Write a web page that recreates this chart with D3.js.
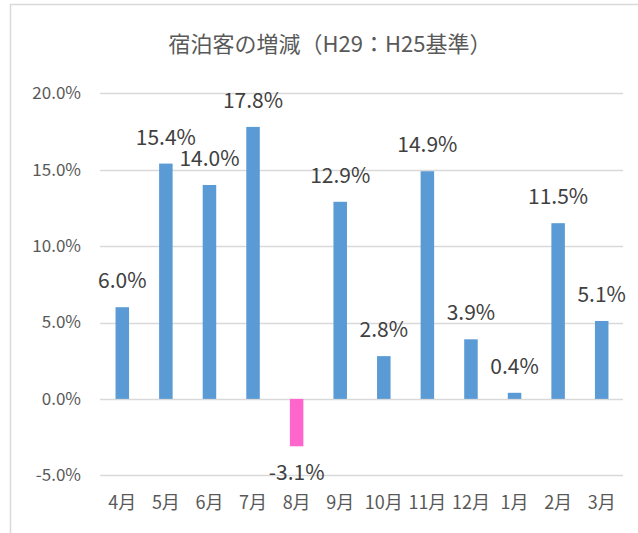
<!DOCTYPE html>
<html><head><meta charset="utf-8">
<script src="https://cdn.jsdelivr.net/npm/d3@7"></script>
<style>body{margin:0;background:#fff;} svg{display:block;}</style>
</head><body>
<svg id="c" width="638" height="533"></svg>
<script>
const categories = ["4月","5月","6月","7月","8月","9月","10月","11月","12月","1月","2月","3月"];
const values = [6.0,15.4,14.0,17.8,-3.1,12.9,2.8,14.9,3.9,0.4,11.5,5.1];
const yTicks = [-5,0,5,10,15,20];
const title = "宿泊客の増減（H29：H25基準）";

const FONT = "'Noto Sans CJK JP','Noto Sans',sans-serif";
const pct = d => d3.format(".1f")(d).replace("\u2212","-") + "%";
const svg = d3.select("#c");
svg.append("rect").attr("x",10.5).attr("y",4.5).attr("width",640).attr("height",540)
  .attr("fill","#fff").attr("stroke","#d9d9d9").attr("stroke-width",1.5);

const x = d3.scaleBand().domain(categories).range([100.5,623.5]).padding(0);
const y = d3.scaleLinear().domain([-5,20]).range([475.3,93.3]);
const bw = x.bandwidth()*0.31;

const g = svg.append("g");
g.selectAll("line.grid").data(yTicks).enter().append("line")
  .attr("x1",100).attr("x2",623).attr("y1",d=>Math.round(y(d))+0.5).attr("y2",d=>Math.round(y(d))+0.5)
  .attr("stroke","#d9d9d9").attr("stroke-width",1.3);

const yAxis = d3.axisLeft(y).tickValues(yTicks).tickSize(0).tickPadding(0).tickFormat(pct);
const ya = svg.append("g").attr("transform","translate(81,0)").call(yAxis);
ya.select(".domain").remove();
ya.selectAll("text").attr("font-family",FONT).attr("font-size",17).attr("fill","#595959");

g.selectAll("rect.bar").data(values).enter().append("rect")
  .attr("x",(d,i)=>x(categories[i])+x.bandwidth()/2-bw/2)
  .attr("width",bw)
  .attr("y",d=>y(Math.max(0,d)))
  .attr("height",d=>Math.abs(y(d)-y(0)))
  .attr("fill",d=>d<0?"#ff66cc":"#5b9bd5");

g.selectAll("text.lbl").data(values).enter().append("text")
  .attr("x",(d,i)=>x(categories[i])+x.bandwidth()/2)
  .attr("y",d=>d<0?y(d)+34:y(d)-19)
  .attr("text-anchor","middle")
  .attr("font-family",FONT).attr("font-size",21).attr("fill","#404040")
  .text(pct);

const xAxis = d3.axisBottom(x).tickSize(0).tickPadding(0);
const xa = svg.append("g").attr("transform","translate(0,496)").call(xAxis);
xa.select(".domain").remove();
xa.selectAll("text").attr("font-family",FONT).attr("font-size",18).attr("fill","#595959");

svg.append("text").attr("x",330).attr("y",52).attr("text-anchor","middle")
  .attr("font-family",FONT).attr("font-size",22).attr("fill","#595959").text(title);
</script>
</body></html>
